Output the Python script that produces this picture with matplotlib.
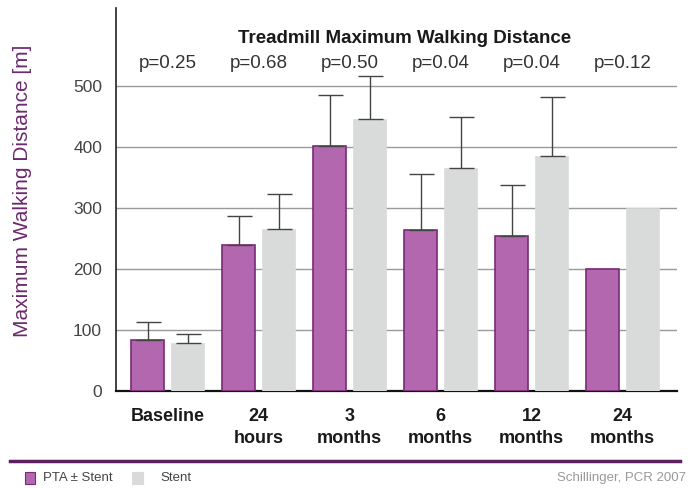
import matplotlib
matplotlib.use("Agg")
import matplotlib.pyplot as plt
import numpy as np
from matplotlib.patches import Rectangle

categories = ["Baseline", "24\nhours", "3\nmonths", "6\nmonths", "12\nmonths", "24\nmonths"]
pvalues = ["p=0.25", "p=0.68", "p=0.50", "p=0.04", "p=0.04", "p=0.12"]
pta = [84, 239, 402, 264, 254, 200]
pta_err = [29, 48, 83, 92, 84, 0]
stent = [79, 266, 446, 366, 385, 300]
stent_err = [14, 57, 70, 83, 97, 0]

purple_fill = "#B267AE"
purple_edge = "#7A2A78"
gray_fill = "#D9DADA"

fig = plt.figure(figsize=(6.93, 4.88), dpi=100)
ax = fig.add_axes([116/693, 1-391/488, (677-116)/693, (391-8)/488])

x = np.arange(len(categories))
w = 0.36
off = 0.22
ax.bar(x - off, pta, width=w, color=purple_fill, edgecolor=purple_edge, linewidth=1.2, zorder=3)
ax.bar(x + off, stent, width=w, color=gray_fill, edgecolor=gray_fill, linewidth=0.5, zorder=3)
for xi, v, e in zip(x - off, pta, pta_err):
    if e > 0:
        ax.errorbar([xi], [v], yerr=[[0], [e]], fmt="none", ecolor="#444444", elinewidth=1, capsize=9, capthick=1, zorder=4)
for xi, v, e in zip(x + off, stent, stent_err):
    if e > 0:
        ax.errorbar([xi], [v], yerr=[[0], [e]], fmt="none", ecolor="#444444", elinewidth=1, capsize=9, capthick=1, zorder=4)

ax.set_xlim(-0.57, 5.6)
ax.set_ylim(0, 628)
ax.set_yticks([0, 100, 200, 300, 400, 500])
ax.yaxis.grid(True, color="#999999", linewidth=1)
ax.set_axisbelow(True)
for s in ["top", "right"]:
    ax.spines[s].set_visible(False)
ax.spines["left"].set_color("#222222")
ax.spines["bottom"].set_color("#111111")
ax.spines["left"].set_linewidth(1.2)
ax.spines["bottom"].set_linewidth(1.6)
ax.tick_params(axis="y", length=0, pad=10, labelsize=12.5, labelcolor="#444444")
ax.tick_params(axis="x", length=0, pad=12)
ax.set_xticks(x)
ax.set_xticklabels(categories, fontsize=13, fontweight="bold", color="#1a1a1a", linespacing=1.4)
for t in ax.get_yticklabels():
    t.set_fontfamily("Liberation Sans")
for t in ax.get_xticklabels():
    t.set_fontfamily("Liberation Sans")

ax.text(2.6, 578, "Treadmill Maximum Walking Distance", ha="center", va="center",
        fontsize=13.5, fontweight="bold", color="#1a1a1a", family="Liberation Sans")
for xi, p in zip(x, pvalues):
    ax.text(xi, 537, p, ha="center", va="center", fontsize=13.5, color="#333333", family="Liberation Sans")

fig.text(23/693, 1-191/488, "Maximum Walking Distance [m]", rotation=90, ha="center", va="center",
         fontsize=15, color="#6B2A6E", family="Liberation Sans")

# bottom rule and legend
fig.add_artist(plt.Line2D([10/693, 680/693], [1-461/488, 1-461/488], color="#5E1F60", linewidth=2.5))
fig.add_artist(Rectangle((25/693, 1-484/488), 10/693, 12/488, facecolor=purple_fill, edgecolor=purple_edge, linewidth=0.8))
fig.text(43/693, 1-478/488, "PTA \u00b1 Stent", ha="left", va="center", fontsize=9.5, color="#444444", family="Liberation Sans")
fig.add_artist(Rectangle((132/693, 1-484/488), 11/693, 12/488, facecolor=gray_fill, edgecolor=gray_fill, linewidth=0.8))
fig.text(160/693, 1-478/488, "Stent", ha="left", va="center", fontsize=9.5, color="#444444", family="Liberation Sans")
fig.text(686/693, 1-478/488, "Schillinger, PCR 2007", ha="right", va="center", fontsize=9.5, color="#999999", family="Liberation Sans")

fig.savefig("out.png", dpi=100)
